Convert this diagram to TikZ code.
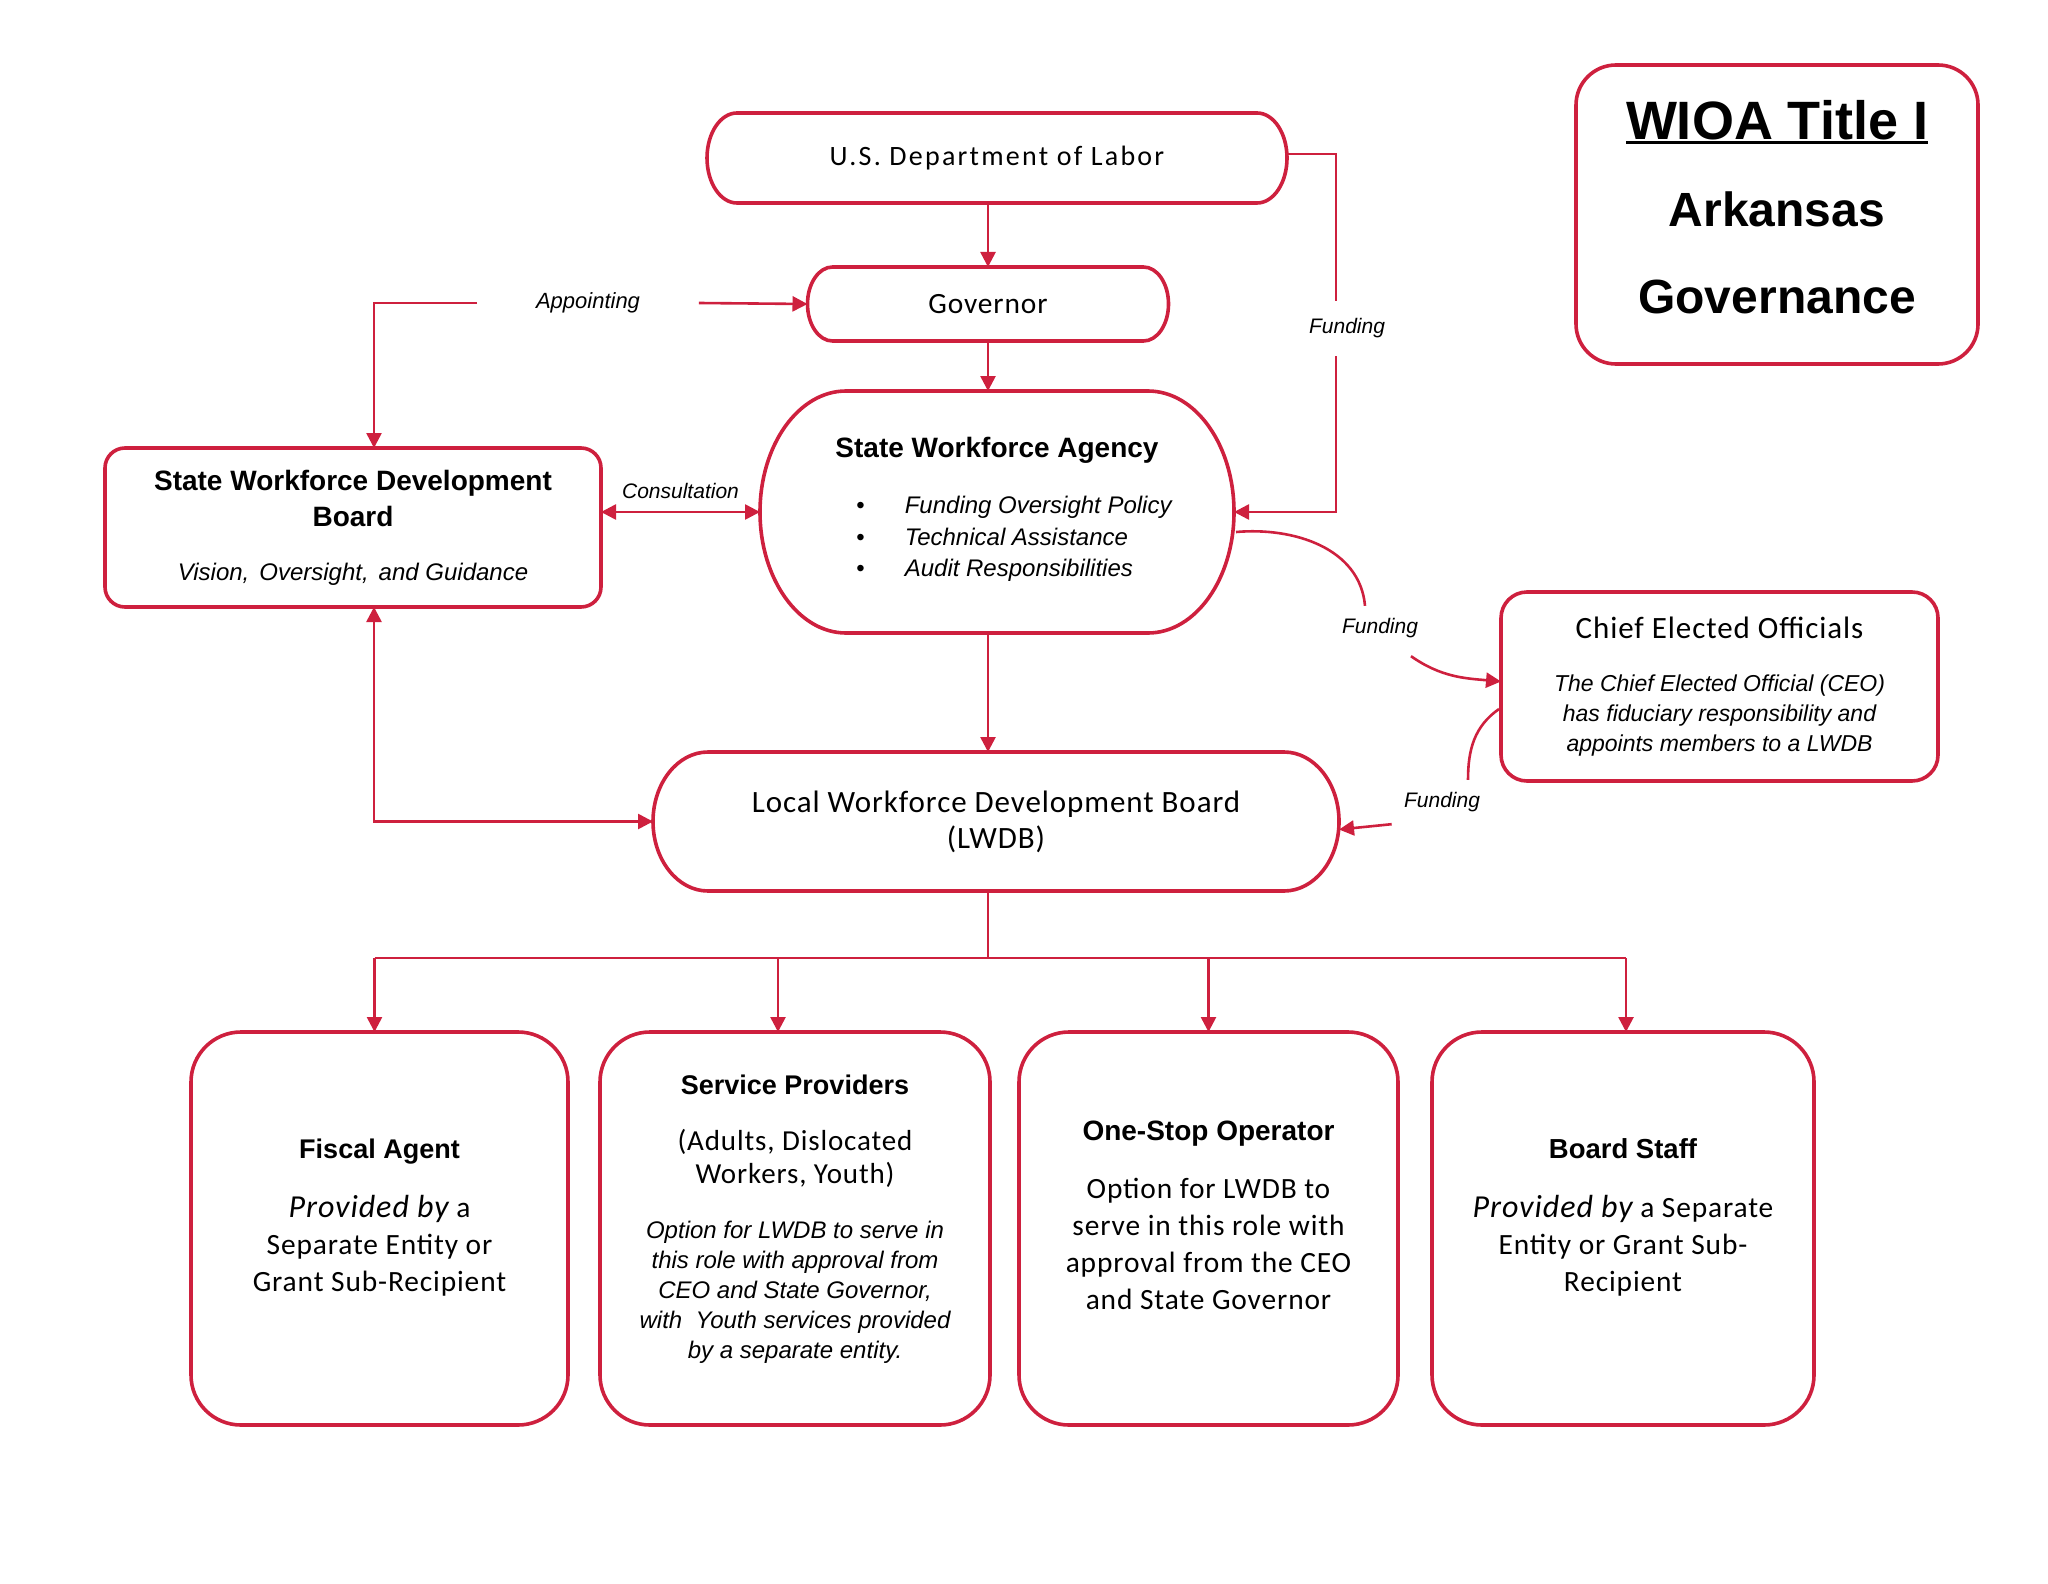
\documentclass[tikz,border=0pt]{standalone}
\usepackage{fontspec}
\setmainfont{Carlito}[LetterSpace=3]
\newfontfamily\arialf{Liberation Sans}
\newfontfamily\calwide{Carlito}[LetterSpace=8]
\usetikzlibrary{arrows.meta,calc}
\definecolor{wioa_red}{RGB}{206,32,62}
\newcommand{\setfs}[2]{\fontsize{#1}{#2}\selectfont}
\newcommand{\bottompad}[1]{\rule[-#1]{0pt}{0pt}}
\newcommand{\heavyline}[1]{\setbox0\hbox{#1}\rlap{\rule[-2pt]{\wd0}{1.3pt}}\box0}
\tikzstyle{rbox}=[draw=wioa_red,line width=1.8pt,rounded corners=12pt,
  inner sep=0pt,outer sep=0pt,align=flush center]
\tikzstyle{cell}=[rbox,rounded corners=25pt,minimum height=196.5pt,text width=182pt]
\tikzstyle{pill}=[inner sep=0pt,outer sep=0pt,align=flush center]
\tikzstyle{pilledge}=[draw=wioa_red,line width=1.8pt]
\tikzstyle{lbl}=[font=\arialf\itshape\setfs{10.5}{12},inner sep=0pt]
\tikzstyle{rl}=[draw=wioa_red,line width=1.3pt]
\tikzstyle{ar}=[rl,-{Triangle[length=7.5pt,width=7.5pt]}]
\tikzstyle{dar}=[rl,{Triangle[length=7.5pt,width=7.5pt]}-{Triangle[length=7.5pt,width=7.5pt]}]
% outline with elliptic ends round a pill node: name, x radius, y radius
\newcommand{\pilloutline}[3]{%
  \draw [style=pilledge] ($(#1.north west)+(#2,0)$) -- ($(#1.north east)+(-#2,0)$)
    arc [start angle=90, end angle=-90, x radius=#2, y radius=#3]
    -- ($(#1.south west)+(#2,0)$)
    arc [start angle=270, end angle=90, x radius=#2, y radius=#3] -- cycle;}

\begin{document}
\begin{tikzpicture}[x=0.5pt,y=0.5pt]
  \useasboundingbox (0,0) rectangle (2048,-1583);
  % top chain
  \node [style=pill, minimum width=290pt, minimum height=45pt] (0) at (997,-158)
    {{\calwide\setfs{14}{17}U.S. Department of Labor}};
  \node [style=pill, minimum width=180.5pt, minimum height=37pt] (1) at (988,-304)
    {\setfs{14.7}{17}Governor};
  \node [style=pill, minimum width=237pt, minimum height=121pt, text width=220pt,
    font=\setfs{12}{15.75}] (2) at (997,-512)
    {{\arialf\bfseries\setfs{14}{16}State Workforce Agency}\\[12.25pt]
     \hspace*{17pt}{\arialf\itshape\setfs{12}{15.75}%
     \begin{tabular}[t]{@{}l@{\hspace{20pt}}l@{}}
       \upshape\textbullet & Funding Oversight Policy\\
       \upshape\textbullet & Technical Assistance\\
       \upshape\textbullet & Audit Responsibilities
     \end{tabular}}};
  \node [style=rbox, rounded corners=10pt, minimum width=248pt, minimum height=79.5pt,
    text width=240pt, font=\setfs{14}{18}] (3) at (353,-527.5)
    {{\arialf\bfseries State Workforce Development\\Board}\\[9pt]
     {\arialf\itshape\setfs{12}{14}Vision,\hspace{5pt}Oversight,\hspace{5pt}and Guidance}};
  \node [style=pill, minimum width=343pt, minimum height=69.5pt, text width=330pt,
    font=\setfs{15.5}{18}] (4) at (996,-821.5)
    {Local Workforce Development Board\\(LWDB)};
  \node [style=rbox, rounded corners=13pt, minimum width=218.5pt, minimum height=94.5pt,
    text width=210pt, font=\setfs{12}{15}] (5) at (1719.5,-686.5)
    {{\setfs{15.5}{18}Chief Elected Officials}\\[11.5pt]
     {\arialf\itshape\setfs{11.5}{15}The Chief Elected Official (CEO)\\
      has fiduciary responsibility and\\appoints members to a LWDB}};
  \node [style=rbox, rounded corners=20pt, minimum width=201pt, minimum height=149.5pt,
    text width=190pt, font=\arialf\bfseries\setfs{24}{43.5}] (6) at (1777,-214.5)
    {{\setfs{27}{30}\heavyline{WIOA Title I}}\\Arkansas\\Governance\bottompad{7.3pt}};
  \pilloutline{0}{30}{45}
  \pilloutline{1}{25}{37}
  \pilloutline{2}{86}{121}
  \pilloutline{4}{55}{69.5}

  % bottom row
  \node [style=cell, minimum width=188.5pt, font=\setfs{14.7}{18.5}] (7) at (379.5,-1228.5)
    {{\arialf\bfseries\setfs{13.5}{16}Fiscal Agent}\\[11pt]
     {\itshape\setfs{16}{18.5}Provided by} a\\Separate Entity or\\Grant Sub-Recipient\bottompad{13pt}};
  \node [style=cell, minimum width=195pt, font=\setfs{14.5}{15}] (8) at (795,-1228.5)
    {{\arialf\bfseries\setfs{13.5}{16}Service Providers}\\[13pt]
     (Adults,\ Dislocated\\[1.5pt]Workers, Youth)\\[12.5pt]
     {\arialf\itshape\setfs{12}{15}Option for LWDB to serve in\\this role with approval from\\
      CEO and State Governor,\\with\ \ Youth services provided\\by a separate entity.}\bottompad{11.5pt}};
  \node [style=cell, minimum width=189.5pt, font=\setfs{14.7}{18.5}] (9) at (1208.5,-1228.5)
    {{\arialf\bfseries\setfs{14}{16}One-Stop Operator}\\[10.5pt]
     Option for LWDB to\\serve in this role with\\approval from the CEO\\and State Governor\bottompad{12.8pt}};
  \node [style=cell, minimum width=191pt, font=\setfs{14.7}{18.5}] (10) at (1623,-1228.5)
    {{\arialf\bfseries\setfs{13.75}{16}Board Staff}\\[11pt]
     {\itshape\setfs{16}{18.5}Provided by} a Separate\\Entity or Grant Sub-\\Recipient\bottompad{13pt}};

  % labels
  \node [style=lbl, font=\arialf\itshape\setfs{11}{13}, minimum width=110.5pt] (11) at (588,-303) {Appointing};
  \node [style=lbl, minimum height=27.5pt] (12) at (1347,-328.5) {Funding};
  \node [style=lbl, inner sep=6pt] (14) at (1380,-628) {Funding};
  \node [style=lbl, inner sep=6pt] (15) at (1442,-802) {Funding};
  \coordinate (bus) at (990,-958);

  % connectors
  \draw [style=ar] (1.north |- 0.south) to (1.north);
  \draw [style=ar] (1.south) to (1.south |- 2.north);
  \draw [style=ar] (1.south |- 2.south) to (1.south |- 4.north);
  \draw [style=ar] (11.east) to (1.west);
  \draw [style=ar] (11.west) -| ($(3.north)+(21,0)$);
  \draw [style=rl] ($(0.east)+(0,4)$) -| ($(12.north)+(-11,0)$);
  \draw [style=ar] ($(12.south)+(-11,0)$) |- (2.east);
  \draw [style=dar] (3.east |- 2.west) -- node [style=lbl, above=6pt] {Consultation} (2.west);
  \draw [style=dar] ($(3.south)+(21,0)$) |- (4.west);
  \draw [style=rl] ($(2.east)+(2,-20)$) to [out=5, in=95] ($(14.north)+(-15,0)$);
  \draw [style=ar] ($(14.south)+(31,-6)$) to [out=-35, in=175] ($(5.west)+(0,5)$);
  \draw [style=rl] ($(5.west)+(-2,-22.5)$) to [out=215, in=90] ($(15.north)+(26,0)$);
  \draw [style=ar] (15.south west) to ($(4.east)+(0,-8)$);
  \draw [style=rl, line width=0.8pt] (1.south |- 4.south) to (1.south |- bus);
  \draw [style=rl] ($(7.north |- bus)+(-5,0)$) to ($(10.north |- bus)+(3,0)$);
  \foreach \n/\dx in {7/-5,8/-17,9/0,10/3}
    \draw [style=ar] ($(\n.north |- bus)+(\dx,0)$) to ($(\n.north)+(\dx,0)$);
\end{tikzpicture}
\end{document}
